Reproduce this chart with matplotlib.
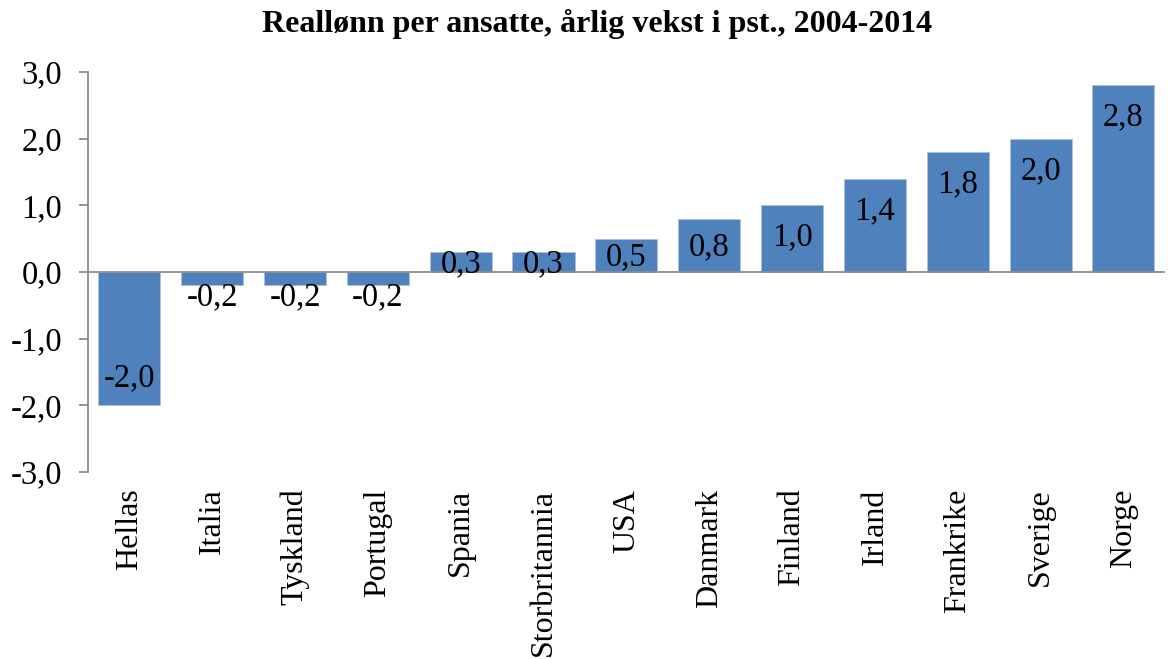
import matplotlib
matplotlib.use("Agg")
from matplotlib import pyplot as plt

# data
countries = ["Hellas", "Italia", "Tyskland", "Portugal", "Spania", "Storbritannia",
             "USA", "Danmark", "Finland", "Irland", "Frankrike", "Sverige", "Norge"]
growth = [-2.0, -0.2, -0.2, -0.2, 0.3, 0.3, 0.5, 0.8, 1.0, 1.4, 1.8, 2.0, 2.8]
y_ticks = [-3.0, -2.0, -1.0, 0.0, 1.0, 2.0, 3.0]

plt.rcParams['font.family'] = ['Liberation Serif', 'DejaVu Serif']

bar_color = '#4F81BD'
axis_grey = '#8C8C8C'
fs = 23.5


def fmt(v):
    return f"{v:.1f}".replace('.', ',')


fig = plt.figure(figsize=(11.68, 6.59), dpi=100)
ax = fig.add_axes([0.0753, 0.2838, 0.922, 0.6069])

x = list(range(len(countries)))
ax.bar(x, growth, width=0.75, color=bar_color, edgecolor='#A9C1DF', linewidth=0.6, zorder=2)
ax.axhline(0, color=axis_grey, linewidth=1.3, zorder=3)

# data labels, inside end like Excel, short bars handled separately
for i, v in enumerate(growth):
    if abs(v) >= 0.9:
        off = -32 if v > 0 else 27
        ax.annotate(fmt(v), (i, v), xytext=(0, off), textcoords='offset pixels',
                    ha='center', va='center', fontsize=fs, zorder=4)
    elif v > 0:
        ax.annotate(fmt(v), (i, v / 2), xytext=(0, -2), textcoords='offset pixels',
                    ha='center', va='center', fontsize=fs, zorder=4)
    else:
        ax.annotate(fmt(v), (i, v), xytext=(0, -12), textcoords='offset pixels',
                    ha='center', va='center', fontsize=fs, zorder=4)

ax.set_xlim(-0.5, len(countries) - 0.5)
ax.set_ylim(-3.0, 3.0)
ax.set_yticks(y_ticks)
ax.set_yticklabels([fmt(t) for t in y_ticks], fontsize=fs)
ax.set_xticks(x)
ax.set_xticklabels(countries, rotation=90, fontsize=23, va='top', ha='center')

for s in ['top', 'right', 'bottom']:
    ax.spines[s].set_visible(False)
ax.spines['left'].set_color(axis_grey)
ax.spines['left'].set_linewidth(1.3)
ax.tick_params(axis='y', direction='out', length=6.5, width=1.3, color=axis_grey, pad=12)
ax.tick_params(axis='x', length=0, pad=12)

fig.suptitle("Reallønn per ansatte, årlig vekst i pst., 2004-2014",
             fontsize=23, fontweight='bold', x=0.511, y=0.986, va='top')

fig.savefig("out.png", dpi=100)
